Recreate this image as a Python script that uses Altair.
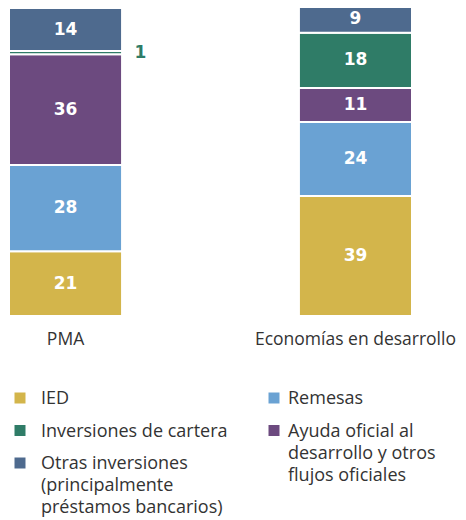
import altair as alt
import pandas as pd

# ---- data ----
regions = ["PMA", "Economías en desarrollo"]
flows = [
    "IED",
    "Remesas",
    "Ayuda oficial al desarrollo y otros flujos oficiales",
    "Inversiones de cartera",
    "Otras inversiones (principalmente préstamos bancarios)",
]
pma_shares = [21, 28, 36, 1, 14]
dev_shares = [39, 24, 11, 18, 9]
flow_colors = ["#d3b54b", "#6aa2d3", "#6c4a7f", "#2f7c67", "#4e6a8e"]

legend_labels = [
    "IED",
    "Remesas",
    "Ayuda oficial al\ndesarrollo y otros\nflujos oficiales",
    "Inversiones de cartera",
    "Otras inversiones\n(principalmente\npréstamos bancarios)",
]
legend_col = [0, 1, 1, 0, 0]
legend_slot = [0, 0, 1, 1, 2]

rows = []
for region, shares in zip(regions, [pma_shares, dev_shares]):
    for i, (f, s) in enumerate(zip(flows, shares)):
        rows.append({"region": region, "flow": f, "share": s, "order": i})
df = pd.DataFrame(rows)

leg = pd.DataFrame({"flow": flows, "label": legend_labels, "col": legend_col, "slot": legend_slot})

FONT = "Open Sans"
TXT = "#333333"

x_enc = alt.X(
    "region:N", sort=regions,
    scale=alt.Scale(paddingInner=0.61, paddingOuter=0),
    axis=alt.Axis(title=None, orient="bottom", labelAngle=0, domain=False, ticks=False, labelPadding=14,
                  labelFontSize=17.5, labelFont=FONT, labelColor=TXT, labelLimit=400),
)
y_scale = alt.Scale(domain=[0, 100], nice=False)
color_enc = alt.Color("flow:N", scale=alt.Scale(domain=flows, range=flow_colors), legend=None)

bars = alt.Chart(df).mark_bar(stroke="white", strokeWidth=2).encode(
    x=x_enc,
    y=alt.Y("share:Q", stack="zero", scale=y_scale, axis=None),
    color=color_enc,
    order=alt.Order("order:Q", sort="ascending"),
)

stacked = alt.Chart(df).transform_stack(
    stack="share", groupby=["region"], sort=[alt.SortField("order", "ascending")], as_=["y0", "y1"]
).transform_calculate(mid="(datum.y0 + datum.y1) / 2")

labels_in = stacked.transform_filter("datum.share >= 5").mark_text(
    font="DejaVu Sans", fontWeight="bold", fontSize=17, color="white", baseline="middle"
).encode(
    x=alt.X("region:N", sort=regions),
    y=alt.Y("mid:Q", scale=y_scale, axis=None),
    text="share:Q",
)

labels_out = stacked.transform_filter("datum.share < 5").mark_text(
    font="DejaVu Sans", fontWeight="bold", fontSize=17, color="#2f7c67", baseline="middle", dx=75
).encode(
    x=alt.X("region:N", sort=regions),
    y=alt.Y("mid:Q", scale=y_scale, axis=None),
    text="share:Q",
)

main = alt.layer(bars, labels_in, labels_out)

lx = alt.X("col:Q", scale=alt.Scale(domain=[0, 1], range=[11, 265]), axis=None)
ly = alt.Y("slot:Q", scale=alt.Scale(domain=[0, 2], range=[390, 455]), axis=None)

leg_sym = alt.Chart(leg).mark_square(size=121, opacity=1).encode(x=lx, y=ly, color=color_enc)

leg_txt0 = alt.Chart(leg).transform_filter("datum.col == 0").mark_text(
    align="left", baseline="top", lineBreak="\n", fontSize=18, font=FONT, color=TXT,
    lineHeight=22, dx=21, dy=-8,
).encode(x=lx, y=ly, text="label:N")

leg_txt1 = alt.Chart(leg).transform_filter("datum.col == 1").mark_text(
    align="left", baseline="top", lineBreak="\n", fontSize=18, font=FONT, color=TXT,
    lineHeight=22, dx=14, dy=-8,
).encode(x=lx, y=ly, text="label:N")

chart = alt.layer(main, leg_sym, leg_txt0, leg_txt1).resolve_scale(
    x="independent", y="independent"
).properties(
    width=403, height=308,
    padding={"left": 0, "top": -5, "right": 0, "bottom": 0},
).configure_view(stroke=None)

chart.save("out.html", embed_options={"renderer": "svg", "actions": False})
